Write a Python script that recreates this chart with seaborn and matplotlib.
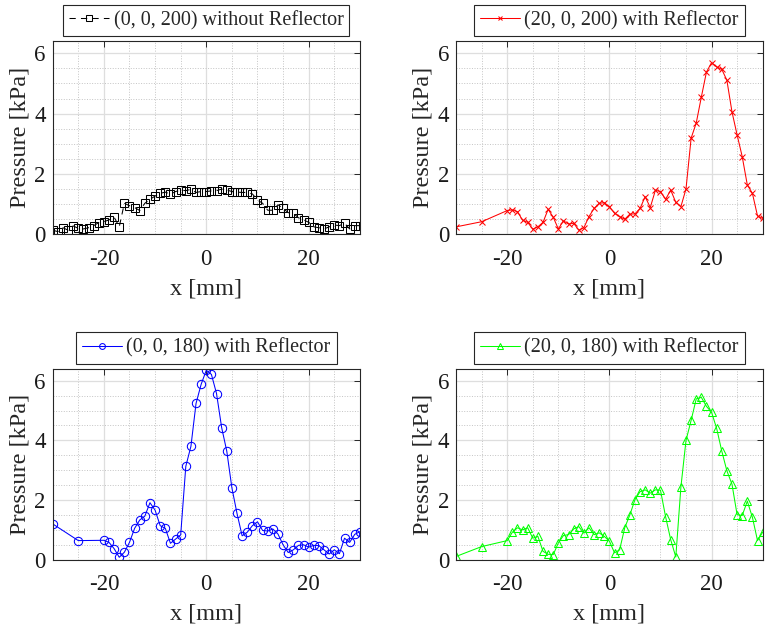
import matplotlib
matplotlib.use("Agg")
import matplotlib.pyplot as plt
from matplotlib.ticker import MultipleLocator
import seaborn as sns

# scan positions [mm]
x_fine = [-30, -29, -28, -27, -26, -25, -24, -23, -22, -21, -20, -19, -18, -17, -16,
          -15, -14, -13, -12, -11, -10, -9, -8, -7, -6, -5, -4, -3, -2, -1, 0,
          1, 2, 3, 4, 5, 6, 7, 8, 9, 10, 11, 12, 13, 14, 15, 16, 17, 18, 19, 20,
          21, 22, 23, 24, 25, 26, 27, 28, 29, 30]
x_scan = [-30, -25, -20, -19, -18, -17, -16, -15, -14, -13, -12, -11, -10, -9, -8,
          -7, -6, -5, -4, -3, -2, -1, 0, 1, 2, 3, 4, 5, 6, 7, 8, 9, 10, 11, 12,
          13, 14, 15, 16, 17, 18, 19, 20, 21, 22, 23, 24, 25, 26, 27, 28, 29, 30]

# pressure [kPa]
p_0_200_noref = [0.14, 0.09, 0.22, 0.14, 0.28, 0.20, 0.18, 0.22, 0.29, 0.39, 0.42,
                 0.48, 0.57, 0.25, 1.03, 0.95, 0.89, 0.79, 1.03, 1.16, 1.27, 1.36,
                 1.40, 1.33, 1.42, 1.46, 1.45, 1.49, 1.39, 1.42, 1.42, 1.44, 1.45,
                 1.50, 1.47, 1.42, 1.40, 1.39, 1.39, 1.34, 1.14, 1.03, 0.80, 0.80,
                 0.98, 0.86, 0.72, 0.70, 0.55, 0.48, 0.40, 0.25, 0.22, 0.18, 0.25,
                 0.31, 0.29, 0.37, 0.18, 0.29, 0.29]
p_20_200_ref = [0.25, 0.42, 0.79, 0.81, 0.75, 0.47, 0.40, 0.17, 0.25, 0.40, 0.83,
                0.57, 0.18, 0.45, 0.34, 0.37, 0.14, 0.22, 0.59, 0.86, 1.03, 1.05,
                0.92, 0.70, 0.59, 0.50, 0.67, 0.68, 0.86, 1.25, 0.89, 1.46, 1.42,
                1.16, 1.47, 1.06, 0.92, 1.51, 3.19, 3.69, 4.55, 5.38, 5.69, 5.55,
                5.47, 5.11, 4.06, 3.30, 2.58, 1.64, 1.36, 0.61, 0.53]
p_0_180_ref = [1.20, 0.64, 0.65, 0.58, 0.37, 0.08, 0.25, 0.58, 1.05, 1.33, 1.46,
               1.91, 1.66, 1.14, 1.05, 0.55, 0.69, 0.83, 3.13, 3.80, 5.24, 5.88,
               6.35, 6.21, 5.57, 4.43, 3.64, 2.41, 1.55, 0.80, 0.92, 1.14, 1.27,
               0.98, 0.96, 1.03, 0.86, 0.50, 0.24, 0.33, 0.48, 0.50, 0.42, 0.48,
               0.47, 0.33, 0.19, 0.33, 0.20, 0.72, 0.58, 0.85, 0.94]
p_20_180_ref = [0.11, 0.44, 0.64, 0.92, 1.07, 1.00, 1.07, 0.72, 0.78, 0.28, 0.18,
                0.17, 0.56, 0.81, 0.84, 1.03, 1.11, 0.89, 1.07, 0.84, 0.90, 0.78,
                0.62, 0.23, 0.33, 1.07, 1.50, 2.01, 2.28, 2.34, 2.23, 2.34, 2.33,
                1.44, 0.67, 0.09, 2.44, 4.00, 4.67, 5.39, 5.44, 5.14, 4.94, 4.40,
                3.64, 2.98, 2.53, 1.51, 1.48, 1.96, 1.42, 0.64, 0.92]

labels = ["(0, 0, 200) without Reflector", "(20, 0, 200) with Reflector",
          "(0, 0, 180) with Reflector", "(20, 0, 180) with Reflector"]

sns.set_style("white")
plt.rcParams['font.family'] = ['Liberation Serif', 'DejaVu Serif']
plt.rcParams['axes.unicode_minus'] = False

fig = plt.figure(figsize=(7.68, 6.25), dpi=100)

dashed = (0, (6, 5))
panels = [
    (x_fine, p_0_200_noref, 'black', 's', dashed, 5.5, [0.0686, 0.625, 0.400, 0.309]),
    (x_scan, p_20_200_ref, '#ff0000', 'x', '-', 4.5, [0.594, 0.625, 0.399, 0.309]),
    (x_scan, p_0_180_ref, '#0000ff', 'o', '-', 6.0, [0.0686, 0.1045, 0.400, 0.3055]),
    (x_scan, p_20_180_ref, '#00ff00', '^', '-', 6.0, [0.594, 0.1045, 0.399, 0.3055]),
]

for (xs, ys, col, mk, ls, ms, box), lab in zip(panels, labels):
    ax = fig.add_axes(box)
    sns.lineplot(x=xs, y=ys, ax=ax, color=col, marker=mk, linestyle=ls,
                 linewidth=0.75, markersize=ms, markerfacecolor='none',
                 markeredgecolor=col, markeredgewidth=0.75,
                 sort=False, estimator=None, label=lab, legend=False)
    ax.set_xlim(-30, 30)
    ax.set_ylim(0, 6.4)
    ax.set_xticks([-20, 0, 20])
    ax.set_yticks([0, 2, 4, 6])
    ax.xaxis.set_minor_locator(MultipleLocator(5))
    ax.yaxis.set_minor_locator(MultipleLocator(0.5))
    ax.grid(which='major', color='#dedede', linewidth=0.9, linestyle='-')
    ax.grid(which='minor', color='#c4c4c4', linewidth=0.7, linestyle=':')
    ax.set_axisbelow(True)
    ax.tick_params(which='major', direction='in', top=True, right=True,
                   length=4, width=0.7, color='#262626', labelsize=16.5,
                   labelcolor='#1a1a1a')
    ax.tick_params(axis='x', which='major', pad=10.5)
    ax.tick_params(axis='y', which='major', pad=5)
    ax.tick_params(which='minor', length=0)
    for sp in ax.spines.values():
        sp.set_color('#262626')
        sp.set_linewidth(0.8)
    ax.set_xlabel('x [mm]', fontsize=17.5, labelpad=6)
    ax.set_ylabel('Pressure [kPa]', fontsize=17.5, labelpad=3)
    leg = ax.legend(loc='lower center', bbox_to_anchor=(0.5, 1.025),
                    borderaxespad=0, fontsize=14.5, fancybox=False,
                    edgecolor='#262626', framealpha=1, borderpad=0.3,
                    handlelength=2.0, handletextpad=0.2, markerscale=0.7)
    leg.get_frame().set_linewidth(0.8)

fig.savefig("out.png", dpi=100)
